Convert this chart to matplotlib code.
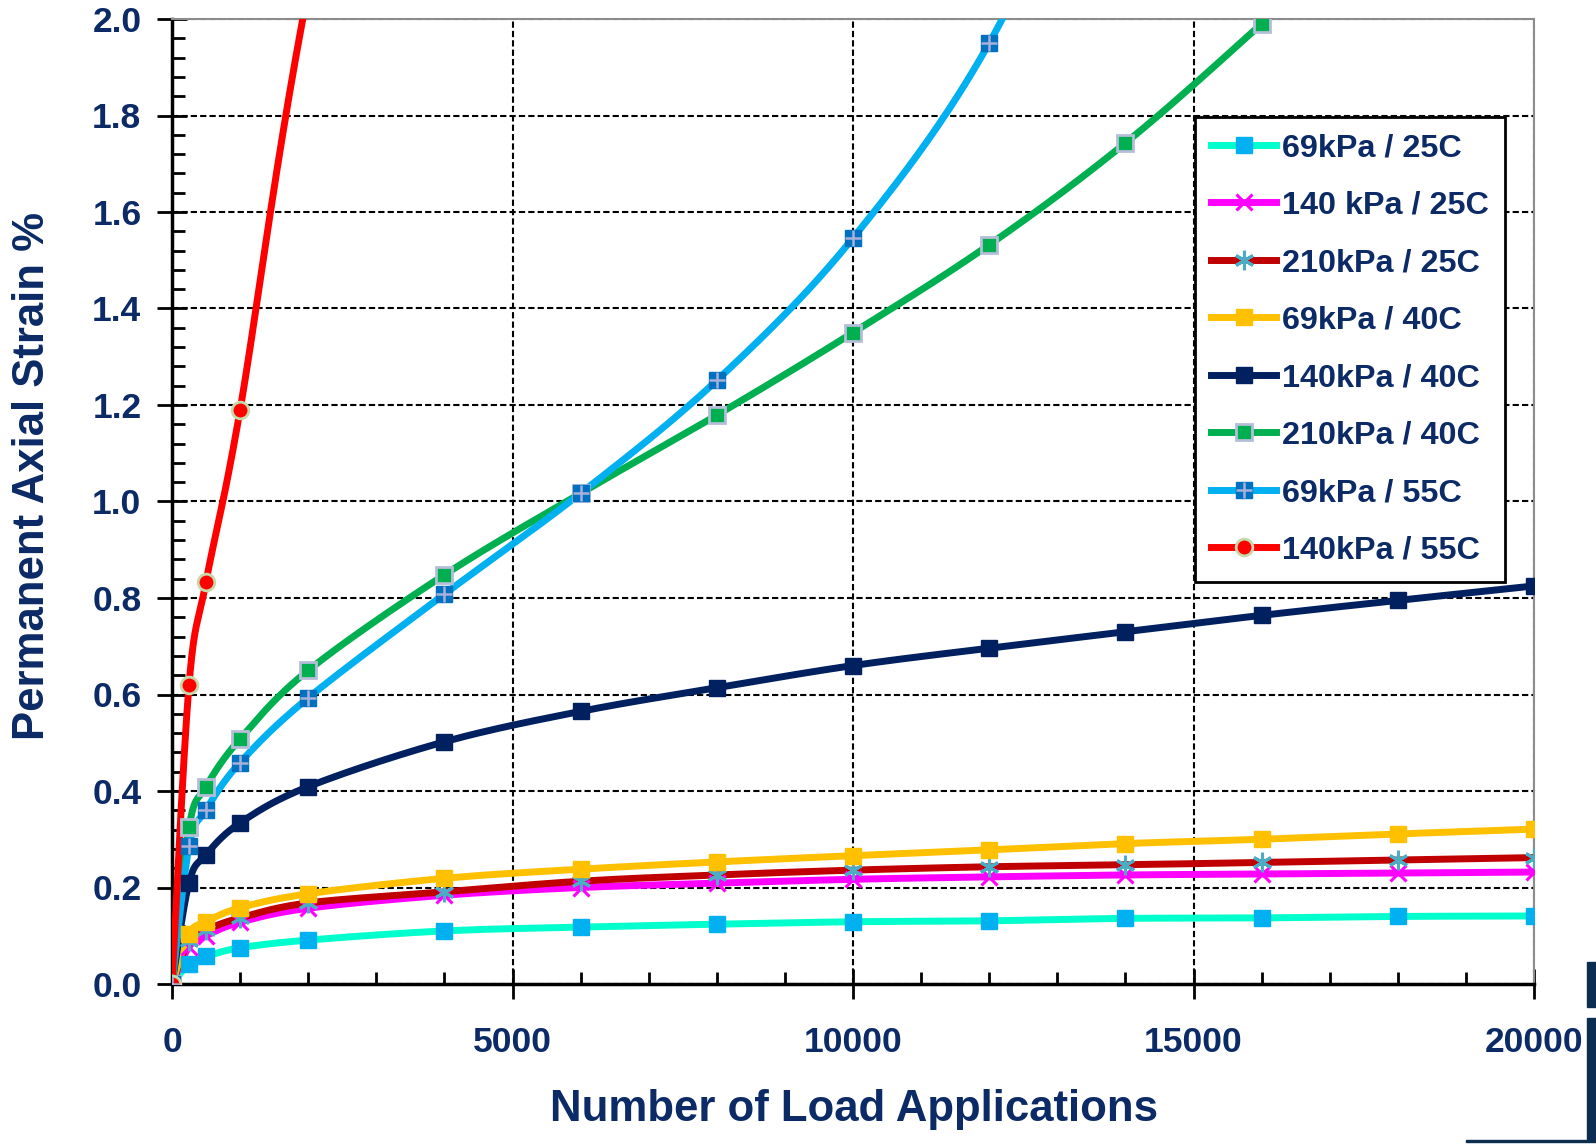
import numpy as np
import matplotlib
matplotlib.use("Agg")
import matplotlib.pyplot as plt
from matplotlib.lines import Line2D
from matplotlib.patches import Rectangle
from matplotlib.ticker import MultipleLocator, FormatStrFormatter

plt.rcParams['font.family'] = ['Liberation Sans', 'DejaVu Sans']
plt.rcParams['font.weight'] = 'bold'

NAVY = '#0B2A66'

# load applications (points above 2.0 % get clipped by the axis)
n_full = [0, 250, 500, 1000, 2000, 4000, 6000, 8000, 10000, 12000, 14000, 16000, 18000, 20000]
n_210_40 = [0, 250, 500, 1000, 2000, 4000, 6000, 8000, 10000, 12000, 14000, 16000, 18000]
n_69_55 = [0, 250, 500, 1000, 2000, 4000, 6000, 8000, 10000, 12000, 14000]
n_140_55 = [0, 250, 500, 1000, 2000, 4000]

# permanent axial strain, %
strain_69_25 = [0, 0.041, 0.057, 0.075, 0.091, 0.110, 0.118, 0.124, 0.129, 0.131, 0.136, 0.137, 0.140, 0.141]
strain_140_25 = [0, 0.077, 0.100, 0.128, 0.157, 0.184, 0.200, 0.209, 0.217, 0.222, 0.226, 0.228, 0.230, 0.232]
strain_210_25 = [0, 0.090, 0.112, 0.137, 0.168, 0.191, 0.213, 0.226, 0.236, 0.243, 0.247, 0.252, 0.257, 0.262]
strain_69_40 = [0, 0.104, 0.129, 0.158, 0.187, 0.219, 0.238, 0.253, 0.266, 0.278, 0.291, 0.300, 0.311, 0.321]
strain_140_40 = [0, 0.210, 0.268, 0.334, 0.409, 0.502, 0.565, 0.614, 0.660, 0.696, 0.730, 0.764, 0.795, 0.825]
strain_210_40 = [0, 0.325, 0.409, 0.508, 0.650, 0.848, 1.017, 1.179, 1.350, 1.532, 1.743, 1.990, 2.25]
strain_69_55 = [0, 0.285, 0.361, 0.459, 0.593, 0.808, 1.017, 1.251, 1.546, 1.950, 2.55]
strain_140_55 = [0, 0.620, 0.834, 1.190, 2.06, 3.4]

labels = ['69kPa / 25C', '140 kPa / 25C', '210kPa / 25C', '69kPa / 40C',
          '140kPa / 40C', '210kPa / 40C', '69kPa / 55C', '140kPa / 55C']


def smooth(x, y, steps=40):
    # bezier smoothing through every point, tangents from neighbouring points
    p = np.column_stack([x, y]).astype(float)
    ext = np.vstack([p[:1], p, p[-1:]])
    t = np.linspace(0, 1, steps)[:, None]
    out = [p[:1]]
    for i in range(len(p) - 1):
        p0, p1, p2, p3 = ext[i], ext[i + 1], ext[i + 2], ext[i + 3]
        c1 = p1 + (p2 - p0) / 6
        c2 = p2 - (p3 - p1) / 6
        seg = (1 - t) ** 3 * p1 + 3 * (1 - t) ** 2 * t * c1 + 3 * (1 - t) * t ** 2 * c2 + t ** 3 * p2
        out.append(seg[1:])
    pts = np.vstack(out)
    return pts[:, 0], pts[:, 1]


# line colour, marker style per series
styles = [
    dict(color='#00FFCC', marker='s', mfc='#00B0F0', mec='#00B0F0', ms=11, mew=1),
    dict(color='#FF00FF', marker='x', mfc='#FF00FF', mec='#FF00FF', ms=12, mew=2.2),
    dict(color='#C00000', marker=(6, 2, 0), mfc='#4BACC6', mec='#4BACC6', ms=14, mew=2.2),
    dict(color='#FFC000', marker='s', mfc='#FFC000', mec='#FFC000', ms=11, mew=1),
    dict(color='#002060', marker='s', mfc='#002060', mec='#002060', ms=11, mew=1),
    dict(color='#00B050', marker='s', mfc='#00B050', mec='#B4BED8', ms=11.5, mew=2),
    dict(color='#00B0F0', marker='s', mfc='#0070C0', mec='#0070C0', ms=11, mew=1),
    dict(color='#FF0000', marker='o', mfc='#FF0000', mec='#C8D8A8', ms=12, mew=2),
]
series = [
    (n_full, strain_69_25), (n_full, strain_140_25), (n_full, strain_210_25),
    (n_full, strain_69_40), (n_full, strain_140_40), (n_210_40, strain_210_40),
    (n_69_55, strain_69_55), (n_140_55, strain_140_55),
]

fig = plt.figure(figsize=(15.96, 11.44), dpi=100)
ax = fig.add_axes([172 / 1596, 1 - 984 / 1144, (1534 - 172) / 1596, (984 - 19) / 1144])

LW = 5
handles = []
for (xs, ys), st in zip(series, styles):
    sx, sy = smooth(xs, ys)
    ax.plot(sx, sy, color=st['color'], lw=LW, solid_capstyle='round', zorder=3)
    ax.plot(xs, ys, ls='none', marker=st['marker'], mfc=st['mfc'], mec=st['mec'],
            ms=st['ms'], mew=st['mew'], zorder=4)
    handles.append(Line2D([], [], color=st['color'], lw=LW, marker=st['marker'], mfc=st['mfc'],
                          mec=st['mec'], ms=st['ms'], mew=st['mew']))

# light cross drawn over the 55C / 69kPa squares
ax.plot(n_69_55, strain_69_55, ls='none', marker='+', ms=11, mew=1.8, mec='#A8B0D8', zorder=5)
handles[6] = (handles[6], Line2D([], [], ls='none', marker='+', ms=11, mew=1.8, mec='#A8B0D8'))

ax.set_xlim(0, 20000)
ax.set_ylim(0, 2.0)
ax.xaxis.set_major_locator(MultipleLocator(5000))
ax.xaxis.set_minor_locator(MultipleLocator(1000))
ax.yaxis.set_major_locator(MultipleLocator(0.2))
ax.yaxis.set_minor_locator(MultipleLocator(0.04))
ax.yaxis.set_major_formatter(FormatStrFormatter('%.1f'))

ax.grid(True, which='major', color='black', ls=(0, (3, 1.5)), lw=1.5, zorder=1)
ax.set_axisbelow(True)

for side in ['left', 'bottom']:
    ax.spines[side].set_linewidth(2.5)
    ax.spines[side].set_color('black')
for side in ['top', 'right']:
    ax.spines[side].set_linewidth(1.5)
    ax.spines[side].set_color('#8C8C8C')

ax.tick_params(which='major', direction='inout', length=22, width=2, color='black',
               labelsize=25.5, labelcolor=NAVY)
ax.tick_params(axis='x', which='major', pad=19)
ax.tick_params(axis='y', which='major', pad=11)
ax.tick_params(which='minor', direction='in', length=9, width=2, color='black')
for lab in ax.get_xticklabels() + ax.get_yticklabels():
    lab.set_fontweight('bold')

fig.text(854 / 1596, 1 - 1110 / 1144, 'Number of Load Applications', ha='center', va='center',
         fontsize=31.5, color=NAVY, fontweight='bold')
fig.text(33 / 1596, 1 - 476 / 1144, 'Permanent Axial Strain %', ha='center', va='center',
         rotation=90, fontsize=31.5, color=NAVY, fontweight='bold')

leg = ax.legend(handles, labels, loc='upper left', bbox_to_anchor=(1195 / 1596, 1 - 117 / 1144),
                bbox_transform=fig.transFigure, borderaxespad=0, fontsize=23.3, handlelength=2.0,
                handletextpad=0.2, labelspacing=0.85, borderpad=0.5, fancybox=False,
                framealpha=1, edgecolor='black', numpoints=1)
leg.get_frame().set_linewidth(2)
for txt in leg.get_texts():
    txt.set_color(NAVY)
    txt.set_fontweight('bold')

# slide edge showing at the lower right
fig.patches.append(Rectangle((1587 / 1596, 1 - 1007 / 1144), 9 / 1596, 45 / 1144,
                             transform=fig.transFigure, color='#0D2D50', zorder=0))
fig.patches.append(Rectangle((1587 / 1596, 1 - 1140 / 1144), 9 / 1596, 122 / 1144,
                             transform=fig.transFigure, color='#0D2D50', zorder=0))
fig.patches.append(Rectangle((1466 / 1596, 1 - 1142 / 1144), 130 / 1596, 2 / 1144,
                             transform=fig.transFigure, color='#0D2D50', zorder=0))

fig.savefig('out.png', dpi=100)
